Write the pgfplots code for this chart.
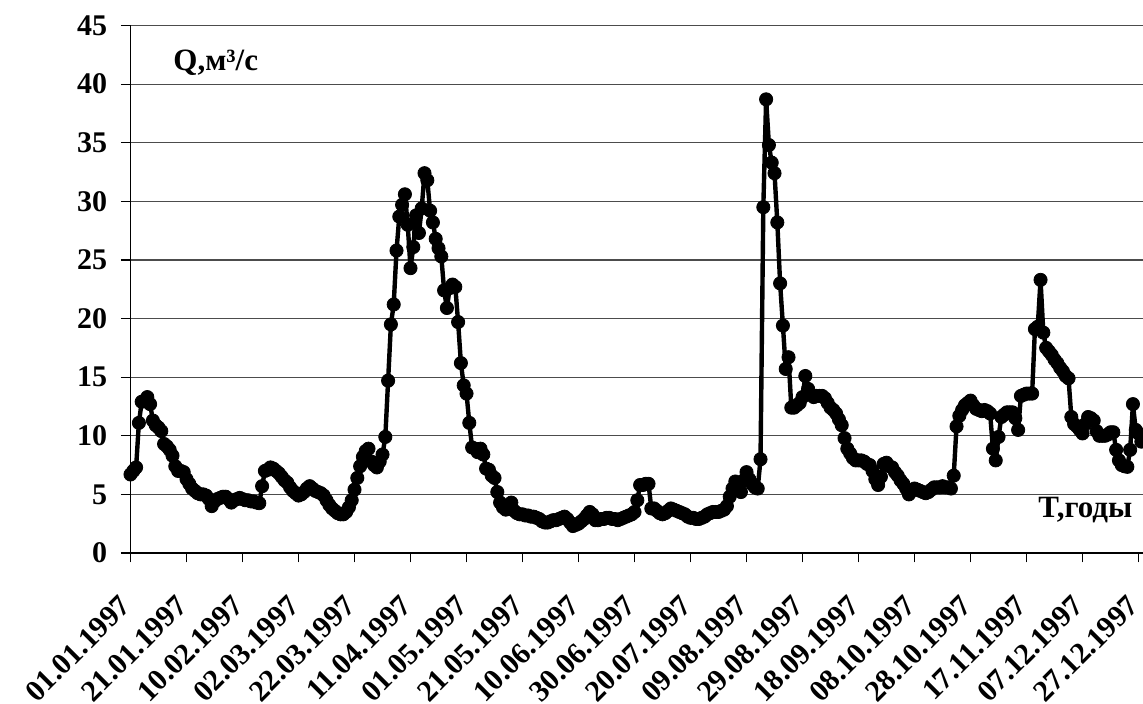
\documentclass[border=0pt]{standalone}
\usepackage{fontspec}
\setmainfont{Liberation Serif}
\usepackage{pgfplots}
\pgfplotsset{compat=1.18}

\begin{document}
\begin{tikzpicture}
\begin{axis}[
    scale only axis,
    width=506.25pt, height=263.75pt,
    xmin=0, xmax=361.6,
    ymin=0, ymax=45,
    axis lines=left,
    axis line style={-, black, line width=0.6pt},
    % ticks
    xtick={0,20,...,360},
    xticklabels={01.01.1997,21.01.1997,10.02.1997,02.03.1997,22.03.1997,11.04.1997,
                 01.05.1997,21.05.1997,10.06.1997,30.06.1997,20.07.1997,09.08.1997,
                 29.08.1997,18.09.1997,08.10.1997,28.10.1997,17.11.1997,07.12.1997,27.12.1997},
    ytick={0,5,...,45},
    tick align=outside,
    major tick length=4.75pt,
    tick style={black, line width=0.6pt},
    /pgf/number format/assume math mode=true,
    tick label style={font=\fontsize{15}{18}\selectfont\bfseries},
    xticklabel style={xshift=-6pt, yshift=-15.25pt, rotate=45, anchor=north east, inner sep=0pt},
    yticklabel style={xshift=-6.75pt, anchor=east, inner sep=0pt},
    % grid
    ymajorgrids,
    grid style={black!70, line width=0.6pt},
  ]
  \addplot[black, line width=2.2pt, line join=round, mark=*, mark size=3.3pt,
           mark options={fill=black, draw=black, line width=0.4pt}] coordinates {
    (0,6.7) (1,7.0) (2,7.3) (3,11.1) (4,12.9) (5,13.0) (6,13.3) (7,12.7) (8,11.3) (9,10.9)
    (10,10.7) (11,10.4) (12,9.3) (13,9.1) (14,8.8) (15,8.3) (16,7.4) (17,7.0) (18,7.0) (19,6.9)
    (20,6.3) (21,5.9) (22,5.5) (23,5.3) (24,5.1) (25,5.0) (26,5.0) (27,4.9) (28,4.6) (29,4.0)
    (30,4.4) (31,4.6) (32,4.7) (33,4.8) (34,4.8) (35,4.6) (36,4.3) (37,4.5) (38,4.6) (39,4.7)
    (40,4.6) (41,4.5) (42,4.5) (43,4.4) (44,4.4) (45,4.3) (46,4.25) (47,5.7) (48,7.0) (49,7.1)
    (50,7.3) (51,7.2) (52,7.0) (53,6.8) (54,6.5) (55,6.2) (56,6.0) (57,5.6) (58,5.3) (59,5.1)
    (60,4.9) (61,5.0) (62,5.2) (63,5.5) (64,5.7) (65,5.5) (66,5.3) (67,5.2) (68,5.1) (69,4.9)
    (70,4.5) (71,4.1) (72,3.8) (73,3.6) (74,3.4) (75,3.3) (76,3.3) (77,3.5) (78,3.9) (79,4.5)
    (80,5.4) (81,6.4) (82,7.4) (83,8.2) (84,8.7) (85,8.9) (86,7.8) (87,7.5) (88,7.3) (89,7.8)
    (90,8.4) (91,9.9) (92,14.7) (93,19.5) (94,21.2) (95,25.8) (96,28.7) (97,29.7) (98,30.6) (99,28.0)
    (100,24.3) (101,26.1) (102,28.8) (103,27.3) (104,29.4) (105,32.4) (106,31.8) (107,29.2) (108,28.2) (109,26.8)
    (110,26.0) (111,25.3) (112,22.4) (113,20.9) (114,22.6) (115,22.9) (116,22.7) (117,19.7) (118,16.2) (119,14.3)
    (120,13.6) (121,11.1) (122,9.0) (123,8.9) (124,8.6) (125,8.9) (126,8.4) (127,7.2) (128,7.1) (129,6.6)
    (130,6.4) (131,5.2) (132,4.3) (133,3.9) (134,3.7) (135,3.8) (136,4.3) (137,3.6) (138,3.4) (139,3.3)
    (140,3.3) (141,3.2) (142,3.2) (143,3.1) (144,3.1) (145,3.0) (146,2.9) (147,2.7) (148,2.6) (149,2.6)
    (150,2.7) (151,2.8) (152,2.8) (153,2.9) (154,3.0) (155,3.1) (156,2.9) (157,2.6) (158,2.3) (159,2.4)
    (160,2.5) (161,2.7) (162,2.9) (163,3.2) (164,3.5) (165,3.3) (166,2.8) (167,2.8) (168,2.9) (169,2.9)
    (170,3.0) (171,3.0) (172,2.9) (173,2.9) (174,2.8) (175,2.9) (176,3.0) (177,3.1) (178,3.2) (179,3.3)
    (180,3.5) (181,4.5) (182,5.8) (183,5.8) (184,5.9) (185,5.9) (186,3.8) (187,3.8) (188,3.6) (189,3.4)
    (190,3.3) (191,3.4) (192,3.6) (193,3.8) (194,3.7) (195,3.6) (196,3.5) (197,3.4) (198,3.3) (199,3.1)
    (200,3.0) (201,3.0) (202,2.9) (203,2.9) (204,3.0) (205,3.1) (206,3.3) (207,3.4) (208,3.5) (209,3.5)
    (210,3.5) (211,3.6) (212,3.7) (213,4.0) (214,4.8) (215,5.5) (216,6.1) (217,5.7) (218,5.2) (219,6.2)
    (220,6.9) (221,6.3) (222,5.9) (223,5.6) (224,5.5) (225,8.0) (226,29.5) (227,38.7) (228,34.8) (229,33.3)
    (230,32.4) (231,28.2) (232,23.0) (233,19.4) (234,15.7) (235,16.7) (236,12.4) (237,12.4) (238,12.6) (239,12.8)
    (240,13.3) (241,15.1) (242,14.0) (243,13.5) (244,13.3) (245,13.4) (246,13.4) (247,13.4) (248,13.2) (249,12.8)
    (250,12.4) (251,12.2) (252,11.9) (253,11.4) (254,10.9) (255,9.8) (256,8.9) (257,8.5) (258,8.1) (259,7.9)
    (260,7.9) (261,7.9) (262,7.8) (263,7.6) (264,7.5) (265,7.0) (266,6.3) (267,5.8) (268,6.5) (269,7.6)
    (270,7.7) (271,7.4) (272,7.3) (273,6.9) (274,6.6) (275,6.2) (276,5.9) (277,5.5) (278,5.0) (279,5.3)
    (280,5.5) (281,5.4) (282,5.3) (283,5.2) (284,5.1) (285,5.2) (286,5.4) (287,5.6) (288,5.6) (289,5.6)
    (290,5.7) (291,5.6) (292,5.6) (293,5.5) (294,6.6) (295,10.8) (296,11.7) (297,12.2) (298,12.6) (299,12.8)
    (300,13.0) (301,12.6) (302,12.3) (303,12.2) (304,12.1) (305,12.2) (306,12.1) (307,11.9) (308,8.9) (309,7.9)
    (310,9.9) (311,11.6) (312,11.8) (313,12.0) (314,12.0) (315,12.0) (316,11.5) (317,10.5) (318,13.4) (319,13.5)
    (320,13.6) (321,13.6) (322,13.6) (323,19.1) (324,19.3) (325,23.3) (326,18.8) (327,17.5) (328,17.2) (329,16.9)
    (330,16.5) (331,16.2) (332,15.8) (333,15.5) (334,15.1) (335,14.9) (336,11.6) (337,11.0) (338,10.8) (339,10.5)
    (340,10.2) (341,11.0) (342,11.6) (343,11.5) (344,11.3) (345,10.4) (346,10.0) (347,10.0) (348,10.0) (349,10.1)
    (350,10.3) (351,10.3) (352,8.8) (353,7.9) (354,7.5) (355,7.4) (356,7.35) (357,8.8) (358,12.7) (359,10.5)
    (360,10.2) (361,9.5) (362,10.0) (363,10.5) (364,10.2)
  };
  % axis titles inside the plot area
  \node[anchor=base west, inner sep=0pt, font=\fontsize{15.5}{18}\selectfont\bfseries]
    at (axis cs:15.2,41.2) {Q,м³/с};
  \node[anchor=base west, inner sep=0pt, font=\fontsize{15.5}{18}\selectfont\bfseries]
    at (axis cs:324.1,3.07) {T,годы};
\end{axis}
\pgfresetboundingbox
\path[use as bounding box]
  ([shift={(-65.25pt,-75.5pt)}]current axis.south west) rectangle
  ([shift={(0pt,12.75pt)}]current axis.north east);
\end{tikzpicture}
\end{document}
